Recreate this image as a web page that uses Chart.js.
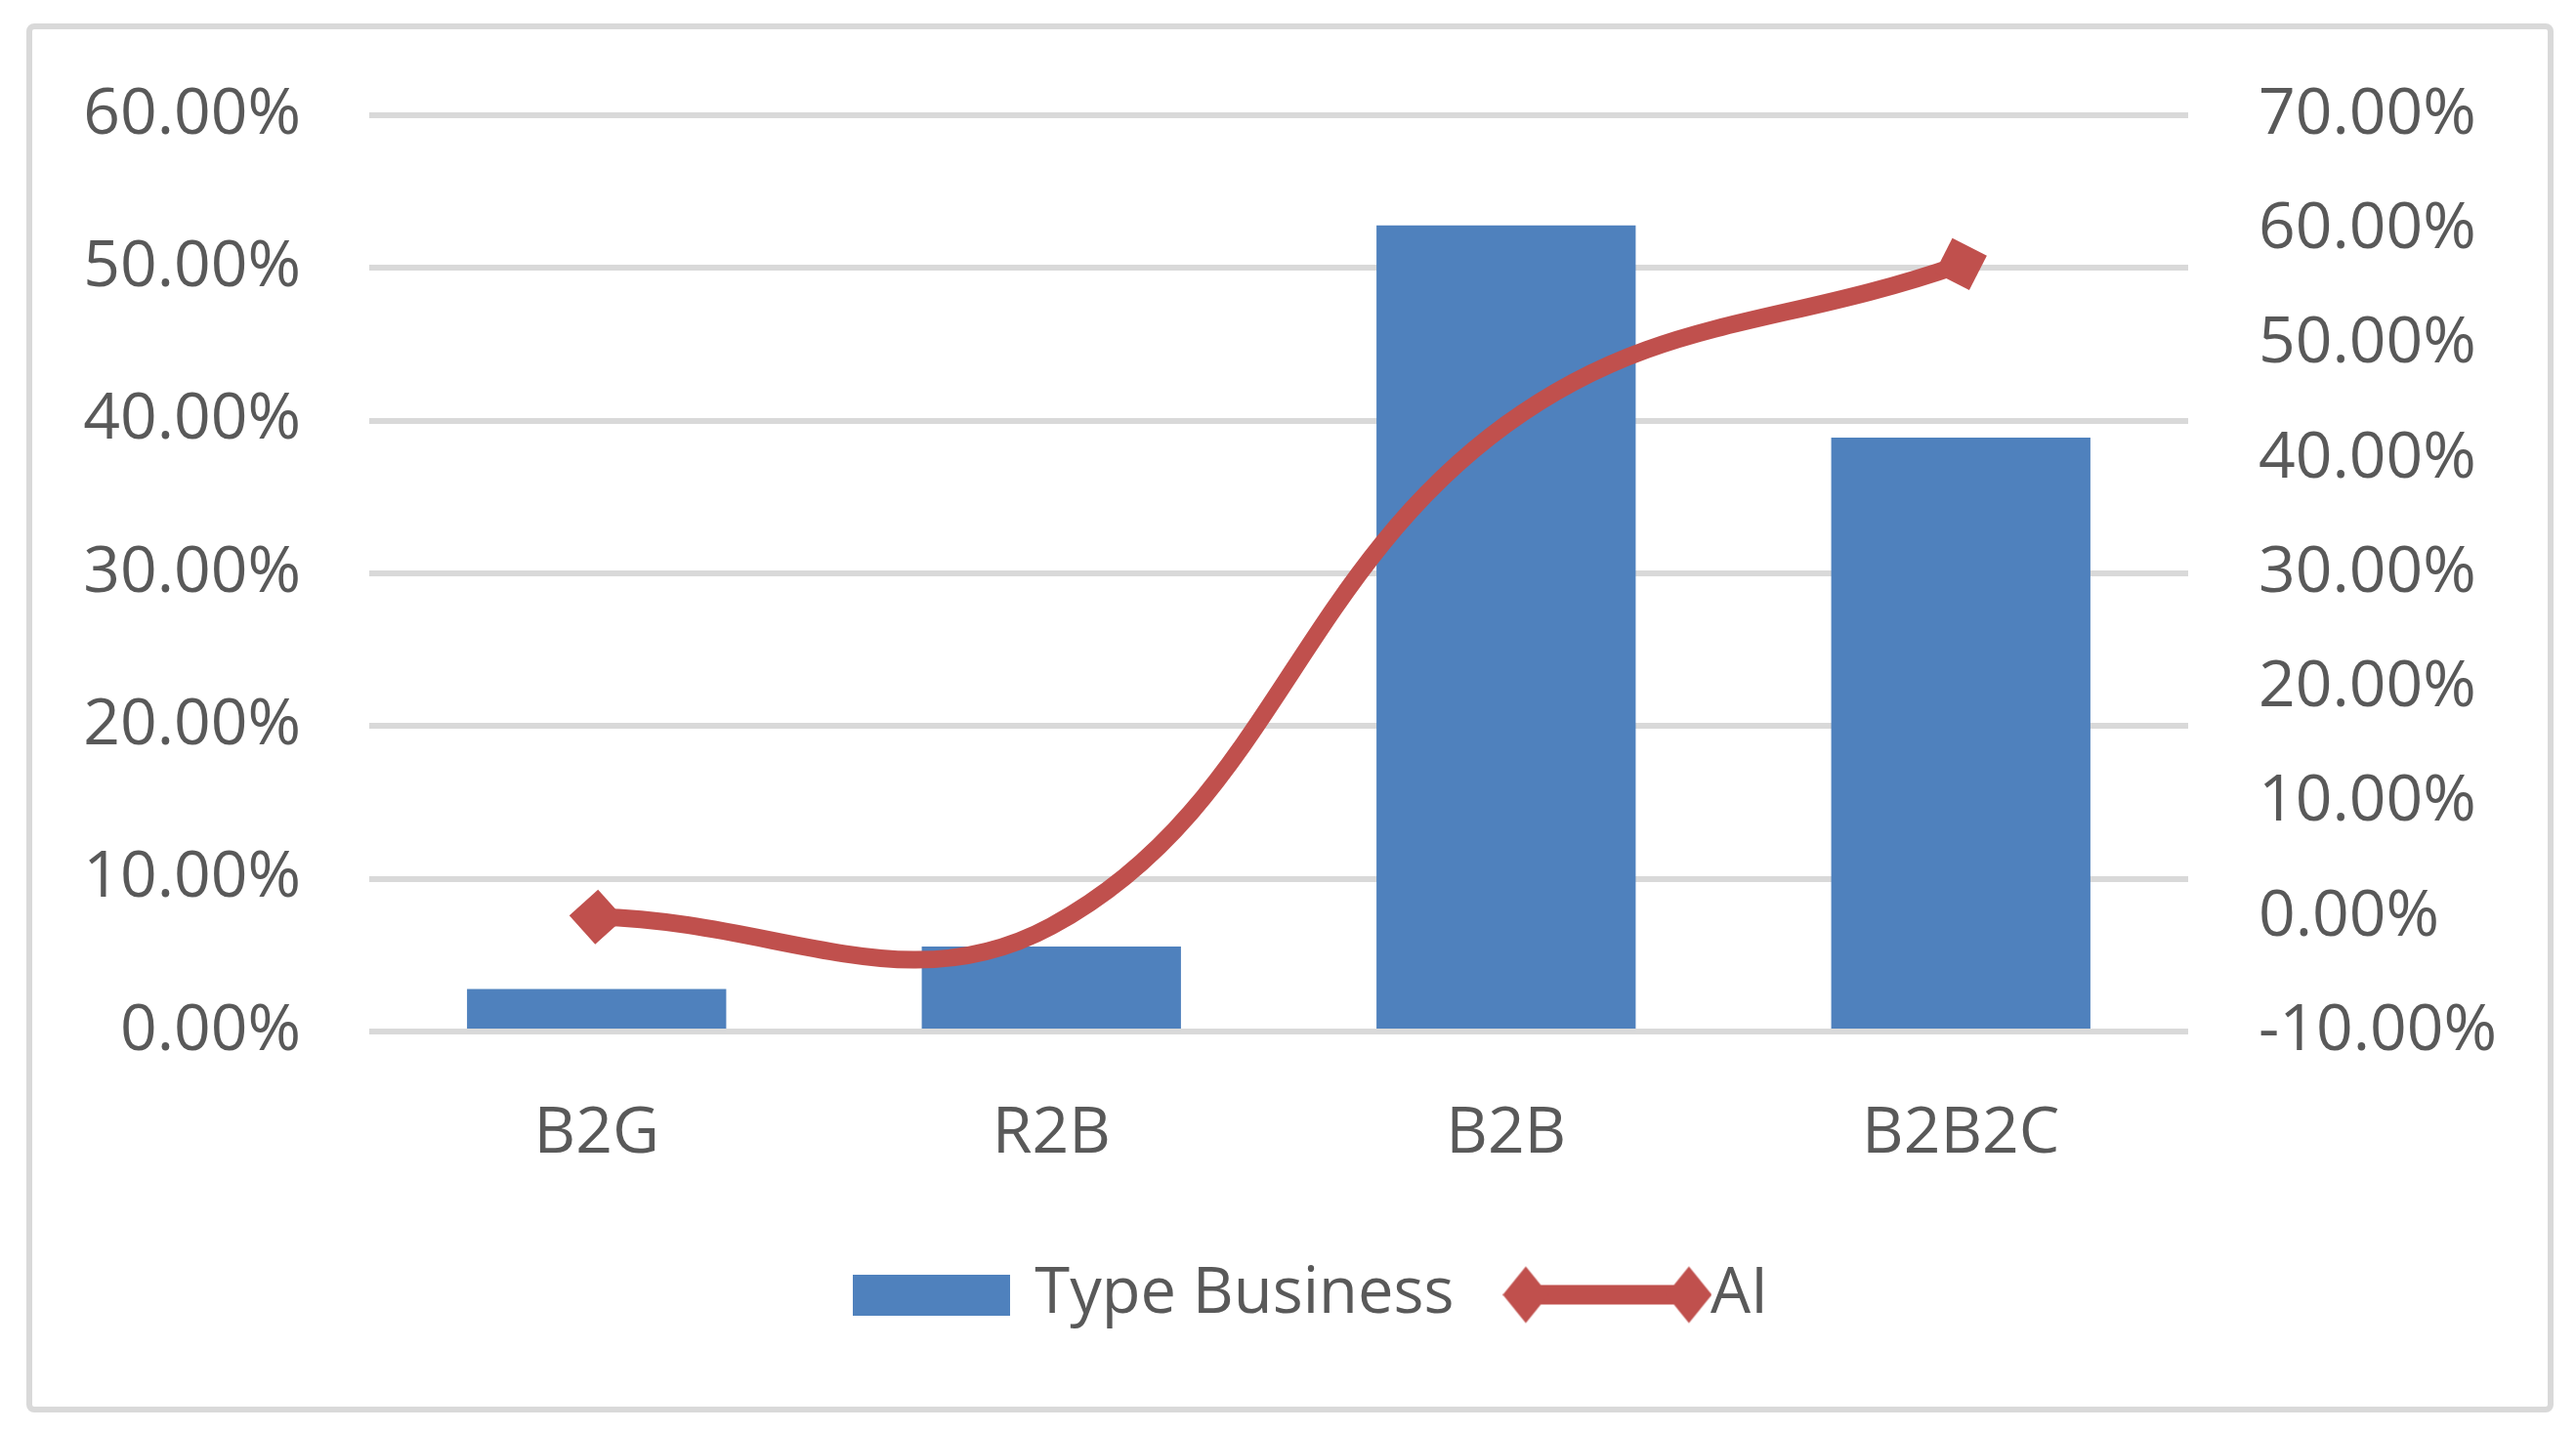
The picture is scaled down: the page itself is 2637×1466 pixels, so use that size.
<!DOCTYPE html>
<html>
<head>
<meta charset="utf-8">
<script src="https://cdn.jsdelivr.net/npm/chart.js@4.4.1/dist/chart.umd.min.js"></script>
<style>
  html, body { margin: 0; padding: 0; background: #ffffff; width: 2637px; height: 1466px; overflow: hidden; }
  #frame { position: absolute; left: 27px; top: 24px; width: 2587px; height: 1422px; box-sizing: border-box;
           border: 6px solid #d9d9d9; border-radius: 8px; }
  #c { position: absolute; left: 0; top: 0; }
</style>
</head>
<body>
<div id="frame"></div>
<canvas id="c" width="2637" height="1466" style="width:2637px;height:1466px"></canvas>
<script>
// ---- data ----
const categories = ['B2G', 'R2B', 'B2B', 'B2B2C'];
const seriesNames = ['Type Business', 'AI'];
const typeBusiness = [2.78, 5.56, 52.78, 38.89];   // % (left axis)
const aiValues = [0, -0.8, 43, 57];                 // % (right axis)
const leftTicks = [0, 10, 20, 30, 40, 50, 60];
const rightTicks = [-10, 0, 10, 20, 30, 40, 50, 60, 70];

// ---- styles ----
const BLUE = '#4F81BD';
const RED = '#C0504D';
const TEXT = '#595959';
const GRID = '#d9d9d9';
const FONT = 'Open Sans';
const FS = 66;
const LFS = 65;

function fmt(v) { return v.toFixed(2) + '%'; }

// legend symbols
const boxImg = document.createElement('canvas');
boxImg.width = 161; boxImg.height = 42;
(function () { const g = boxImg.getContext('2d'); g.fillStyle = BLUE; g.fillRect(0, 0, 161, 42); })();

const lineImg = document.createElement('canvas');
lineImg.width = 214; lineImg.height = 60;
(function () {
  const g = lineImg.getContext('2d');
  g.fillStyle = RED;
  g.fillRect(23, 20, 168, 20);
  function diamond(cx) {
    g.beginPath();
    g.moveTo(cx - 23.5, 30); g.lineTo(cx, 1); g.lineTo(cx + 23.5, 30); g.lineTo(cx, 59); g.closePath(); g.fill();
  }
  diamond(23.5); diamond(190.5);
})();

const chart = new Chart(document.getElementById('c'), {
  type: 'bar',
  data: {
    labels: categories,
    datasets: [
      {
        type: 'line',
        label: seriesNames[1],
        data: aiValues,
        yAxisID: 'y1',
        borderColor: RED,
        borderWidth: 18,
        tension: 0.4,
        fill: false,
        pointStyle: 'rectRot',
        pointRadius: [28, 0, 0, 28],
        pointHoverRadius: [28, 0, 0, 28],
        pointRotation: [3, 0, 0, -18],
        pointBackgroundColor: RED,
        pointBorderWidth: 0,
        order: 0
      },
      {
        type: 'bar',
        label: seriesNames[0],
        data: typeBusiness,
        yAxisID: 'y',
        backgroundColor: BLUE,
        borderWidth: 0,
        barPercentage: 0.57,
        categoryPercentage: 1.0,
        order: 1
      }
    ]
  },
  options: {
    responsive: false,
    animation: false,
    devicePixelRatio: 1,
    layout: { padding: { top: 118, bottom: 98, left: 54, right: 0 } },
    plugins: {
      tooltip: { enabled: false },
      legend: {
        position: 'bottom',
        labels: {
          usePointStyle: true,
          pointStyleWidth: 146,
          padding: 84,
          color: TEXT,
          font: { family: FONT, size: LFS },
          generateLabels: () => [
            { text: seriesNames[0], pointStyle: boxImg, fillStyle: BLUE, strokeStyle: BLUE, lineWidth: 0, hidden: false, datasetIndex: 1, fontColor: TEXT },
            { text: seriesNames[1], pointStyle: lineImg, fillStyle: RED, strokeStyle: RED, lineWidth: 0, hidden: false, datasetIndex: 0, fontColor: TEXT }
          ]
        }
      }
    },
    scales: {
      x: {
        grid: { display: false },
        border: { display: false },
        ticks: { color: TEXT, font: { family: FONT, size: FS }, padding: 58 },
        afterFit: (s) => { s.height = 153; }
      },
      y: {
        position: 'left',
        min: 0, max: 60,
        afterBuildTicks: (s) => { s.ticks = leftTicks.map(v => ({ value: v })); },
        grid: { color: GRID, lineWidth: 6, drawTicks: false },
        border: { display: false },
        ticks: { color: TEXT, font: { family: FONT, size: FS }, padding: 70, callback: (v) => fmt(v) },
        afterFit: (s) => { s.width = 324; }
      },
      y1: {
        position: 'right',
        min: -10, max: 70,
        afterBuildTicks: (s) => { s.ticks = rightTicks.map(v => ({ value: v })); },
        grid: { display: false, drawTicks: false },
        border: { display: false },
        ticks: { color: TEXT, font: { family: FONT, size: FS }, padding: 72, callback: (v) => fmt(v) },
        afterFit: (s) => { s.width = 397; }
      }
    }
  }
});
</script>
</body>
</html>
